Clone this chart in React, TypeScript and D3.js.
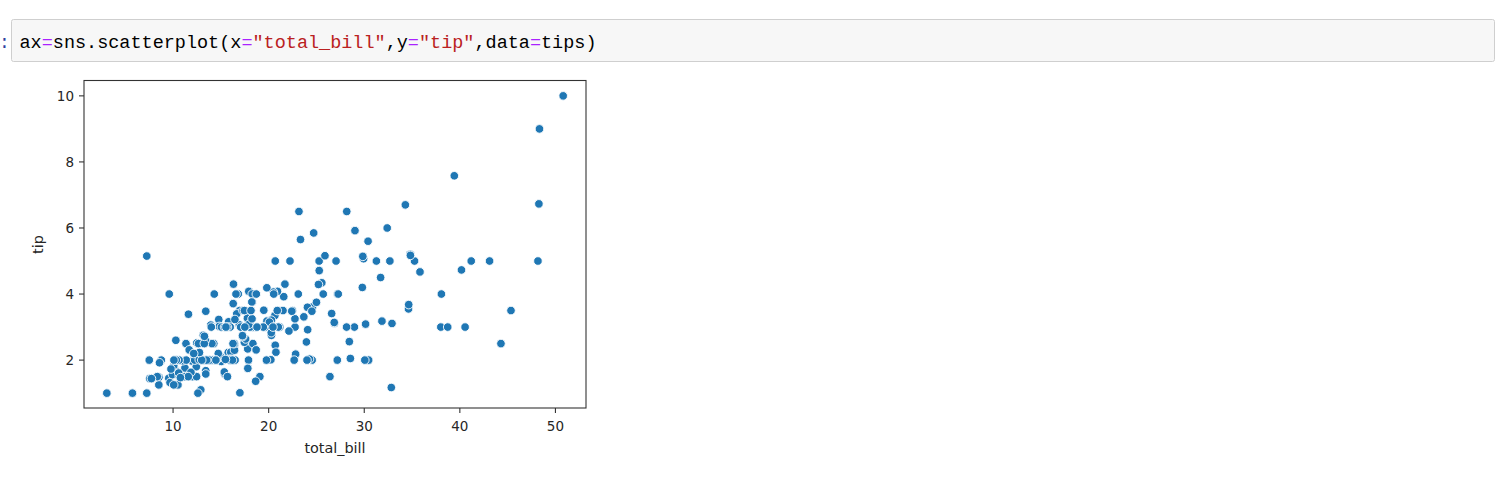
import React from 'react';
import * as d3 from 'd3';

// tips dataset: total_bill / tip
const totalBill = [
  16.99, 10.34, 21.01, 23.68, 24.59, 25.29, 8.77, 26.88, 15.04, 14.78, 10.27, 35.26, 15.42, 18.43, 14.83, 21.58,
  10.33, 16.29, 16.97, 20.65, 17.92, 20.29, 15.77, 39.42, 19.82, 17.81, 13.37, 12.69, 21.7, 19.65, 9.55, 18.35,
  15.06, 20.69, 17.78, 24.06, 16.31, 16.93, 18.69, 31.27, 16.04, 17.46, 13.94, 9.68, 30.4, 18.29, 22.23, 32.4,
  28.55, 18.04, 12.54, 10.29, 34.81, 9.94, 25.56, 19.49, 38.01, 26.41, 11.24, 48.27, 20.29, 13.81, 11.02, 18.29,
  17.59, 20.08, 16.45, 3.07, 20.23, 15.01, 12.02, 17.07, 26.86, 25.28, 14.73, 10.51, 17.92, 27.2, 22.76, 17.29,
  19.44, 16.66, 10.07, 32.68, 15.98, 34.83, 13.03, 18.28, 24.71, 21.16, 28.97, 22.49, 5.75, 16.32, 22.75, 40.17,
  27.28, 12.03, 21.01, 12.46, 11.35, 15.38, 44.3, 22.42, 20.92, 15.36, 20.49, 25.21, 18.24, 14.31, 14.0, 7.25,
  38.07, 23.95, 25.71, 17.31, 29.93, 10.65, 12.43, 24.08, 11.69, 13.42, 14.26, 15.95, 12.48, 29.8, 8.52, 14.52,
  11.38, 22.82, 19.08, 20.27, 11.17, 12.26, 18.26, 8.51, 10.33, 14.15, 16.0, 13.16, 17.47, 34.3, 41.19, 27.05,
  16.43, 8.35, 18.64, 11.87, 9.78, 7.51, 14.07, 13.13, 17.26, 24.55, 19.77, 29.85, 48.17, 25.0, 13.39, 16.49,
  21.5, 12.66, 16.21, 13.81, 17.51, 24.52, 20.76, 31.71, 10.59, 10.63, 50.81, 15.81, 7.25, 31.85, 16.82, 32.9,
  17.89, 14.48, 9.6, 34.63, 34.65, 23.33, 45.35, 23.17, 40.55, 20.69, 20.9, 30.46, 18.15, 23.1, 15.69, 19.81,
  28.44, 15.48, 16.58, 7.56, 10.34, 43.11, 13.0, 13.51, 18.71, 12.74, 13.0, 16.4, 20.53, 16.47, 26.59, 38.73,
  24.27, 12.76, 30.06, 25.89, 48.33, 13.27, 28.17, 12.9, 28.15, 11.59, 7.74, 30.14, 12.16, 13.42, 8.58, 15.98,
  13.42, 16.27, 10.09, 20.45, 13.28, 22.12, 24.01, 15.69, 11.61, 10.77, 15.53, 10.07, 12.6, 32.83, 35.83, 29.03,
  27.18, 22.67, 17.82, 18.78,
];
const tip = [
  1.01, 1.66, 3.5, 3.31, 3.61, 4.71, 2.0, 3.12, 1.96, 3.23, 1.71, 5.0, 1.57, 3.0, 3.02, 3.92,
  1.67, 3.71, 3.5, 3.35, 4.08, 2.75, 2.23, 7.58, 3.18, 2.34, 2.0, 2.0, 4.3, 3.0, 1.45, 2.5,
  3.0, 2.45, 3.27, 3.6, 2.0, 3.07, 2.31, 5.0, 2.24, 2.54, 3.06, 1.32, 5.6, 3.0, 5.0, 6.0,
  2.05, 3.0, 2.5, 2.6, 5.2, 1.56, 4.34, 3.51, 3.0, 1.5, 1.76, 6.73, 3.21, 2.0, 1.98, 3.76,
  2.64, 3.15, 2.47, 1.0, 2.01, 2.09, 1.97, 3.0, 3.14, 5.0, 2.2, 1.25, 3.08, 4.0, 3.0, 2.71,
  3.0, 3.4, 1.83, 5.0, 2.03, 5.17, 2.0, 4.0, 5.85, 3.0, 3.0, 3.5, 1.0, 4.3, 3.25, 4.73,
  4.0, 1.5, 3.0, 1.5, 2.5, 3.0, 2.5, 3.48, 4.08, 1.64, 4.06, 4.29, 3.76, 4.0, 3.0, 1.0,
  4.0, 2.55, 4.0, 3.5, 5.07, 1.5, 1.8, 2.92, 2.31, 1.68, 2.5, 2.0, 2.52, 4.2, 1.48, 2.0,
  2.0, 2.18, 1.5, 2.83, 1.5, 2.0, 3.25, 1.25, 2.0, 2.0, 2.0, 2.75, 3.5, 6.7, 5.0, 5.0,
  2.3, 1.5, 1.36, 1.63, 1.73, 2.0, 2.5, 2.0, 2.74, 2.0, 2.0, 5.14, 5.0, 3.75, 2.61, 2.0,
  3.5, 2.5, 2.0, 2.0, 3.0, 3.48, 2.24, 4.5, 1.61, 2.0, 10.0, 3.16, 5.15, 3.18, 4.0, 3.11,
  2.0, 2.0, 4.0, 3.55, 3.68, 5.65, 3.5, 6.5, 3.0, 5.0, 3.5, 2.0, 3.5, 4.0, 1.5, 4.19,
  2.56, 2.02, 4.0, 1.44, 2.0, 5.0, 2.0, 2.0, 4.0, 2.01, 2.0, 2.5, 4.0, 3.23, 3.41, 3.0,
  2.03, 2.23, 2.0, 5.16, 9.0, 2.5, 6.5, 1.1, 3.0, 1.5, 1.44, 3.09, 2.2, 3.48, 1.92, 3.0,
  1.58, 2.5, 2.0, 3.0, 2.72, 2.88, 2.0, 3.0, 3.39, 1.47, 3.0, 1.25, 1.0, 1.17, 4.67, 5.92,
  2.0, 2.0, 1.75, 3.0,
];
const xTicks = [10, 20, 30, 40, 50];
const yTicks = [2, 4, 6, 8, 10];

// code cell tokens
const codeTokens: [string, string][] = [
  ['ax', '#000'], ['=', '#aa22ff'], ['sns.scatterplot(x', '#000'], ['=', '#aa22ff'],
  ['"total_bill"', '#ba2121'], [',y', '#000'], ['=', '#aa22ff'], ['"tip"', '#ba2121'],
  [',data', '#000'], ['=', '#aa22ff'], ['tips)', '#000'],
];

const W = 1509;
const H = 482;
const plot = { left: 84, right: 586, top: 81, bottom: 408 };

export default function App() {
  const pad = (lo: number, hi: number) => [lo - (hi - lo) * 0.05, hi + (hi - lo) * 0.05];
  const [x0, x1] = pad(d3.min(totalBill)!, d3.max(totalBill)!);
  const [y0, y1] = pad(d3.min(tip)!, d3.max(tip)!);
  const x = d3.scaleLinear().domain([x0, x1]).range([plot.left, plot.right]);
  const y = d3.scaleLinear().domain([y0, y1]).range([plot.bottom, plot.top]);
  const axisColor = '#333';
  const textColor = '#262626';
  const font = '"DejaVu Sans", sans-serif';
  const mono = '"Liberation Mono", monospace';

  return (
    <svg width={W} height={H} style={{ position: 'absolute', left: 0, top: 0, background: '#fff' }}>
      {/* code cell */}
      <text x={-1} y={48} fontFamily={mono} fontSize={18} fill="#303f9f">:</text>
      <rect x={11.5} y={19.5} width={1483} height={42} rx={2} fill="#f7f7f7" stroke="#cfcfcf" />
      <text x={19.5} y={48} fontFamily={mono} fontSize={18.5} textLength={577} lengthAdjust="spacingAndGlyphs">
        {codeTokens.map(([t, c], i) => (
          <tspan key={i} fill={c}>{t}</tspan>
        ))}
      </text>

      {/* points */}
      <g>
        {totalBill.map((tb, i) => (
          <circle key={i} cx={x(tb)} cy={y(tip[i])} r={4.3} fill="#1f77b4" stroke="#fff" strokeWidth={0.9} />
        ))}
      </g>

      {/* frame */}
      <rect x={plot.left} y={plot.top - 0.5} width={plot.right - plot.left} height={plot.bottom - plot.top + 0.5}
        fill="none" stroke={axisColor} strokeWidth={1.1} />

      {/* x axis */}
      {xTicks.map(t => (
        <g key={t} transform={`translate(${x(t)},${plot.bottom})`}>
          <line y2={5} stroke={axisColor} strokeWidth={1.1} />
          <text y={22.5} textAnchor="middle" fontFamily={font} fontSize={13.5} fill={textColor}>{t}</text>
        </g>
      ))}
      <text x={(plot.left + plot.right) / 2} y={453} textAnchor="middle" fontFamily={font} fontSize={14.4} fill={textColor}>
        total_bill
      </text>

      {/* y axis */}
      {yTicks.map(t => (
        <g key={t} transform={`translate(${plot.left},${y(t)})`}>
          <line x2={-5} stroke={axisColor} strokeWidth={1.1} />
          <text x={-10} dy="0.36em" textAnchor="end" fontFamily={font} fontSize={13.5} fill={textColor}>{t}</text>
        </g>
      ))}
      <text transform={`translate(43,${(plot.top + plot.bottom) / 2}) rotate(-90)`} textAnchor="middle"
        fontFamily={font} fontSize={14.4} fill={textColor}>tip</text>
    </svg>
  );
}
